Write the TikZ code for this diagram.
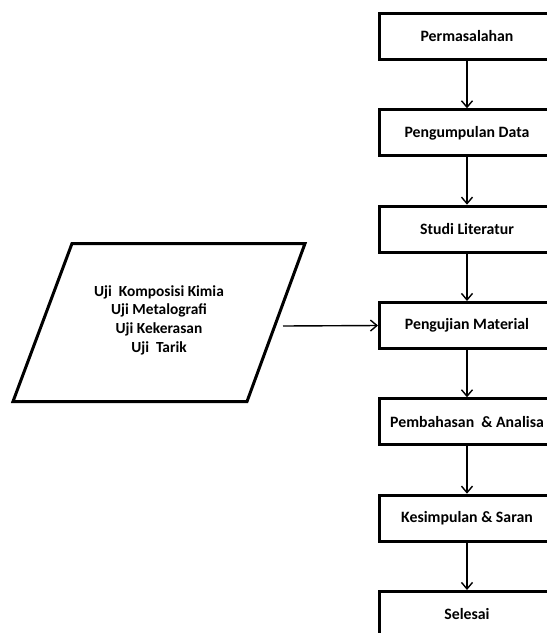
\documentclass[tikz,border=0pt]{standalone}
\usepackage{fontspec}
\setmainfont{Carlito}
\usetikzlibrary{arrows.meta}
\begin{document}
\begin{tikzpicture}[x=1pt,y=-1pt,
  txt/.style={font=\fontsize{15.4}{18.7}\selectfont\bfseries},
  stepbox/.style={font=\fontsize{15.8}{18.7}\selectfont\bfseries, draw, line width=3pt, minimum width=175pt, minimum height=46pt, inner sep=0pt},
  flow/.style={line width=1.4pt, -{Straight Barb[length=6.5pt,width=11pt,line width=1.4pt]}},
  para/.style={line width=3pt, line join=miter}]
\useasboundingbox (0,0) rectangle (547,633);
\clip (0,0) rectangle (547,633);
\fill[white] (0,0) rectangle (547,633);

\node[stepbox] (b1) at (467,36.5)  {Permasalahan};
\node[stepbox] (b2) at (467,132.8) {Pengumpulan Data};
\node[stepbox] (b3) at (467,229.2) {Studi Literatur};
\node[stepbox] (b4) at (467,325.5) {Pengujian Material};
\node[stepbox] (b5) at (467,421.8) {Pembahasan~~\& Analisa};
\node[stepbox] (b6) at (467,518.2) {Kesimpulan \& Saran};
\node[stepbox] (b7) at (467,614.5) {Selesai};

\draw[flow] (b1.south) -- (b2.north);
\draw[flow] (b2.south) -- (b3.north);
\draw[flow] (b3.south) -- (b4.north);
\draw[flow] (b4.south) -- (b5.north);
\draw[flow] (b5.south) -- (b6.north);
\draw[flow] (b6.south) -- (b7.north);

\coordinate (ptl) at (72,243.5);
\coordinate (ptr) at (305,243.5);
\coordinate (pbr) at (247,401.5);
\coordinate (pbl) at (13,401.5);
\draw[para] (ptl) -- (ptr) -- (pbr) -- (pbl) -- cycle;
\node[txt, align=center] (ptext) at (159,320) {Uji~~Komposisi Kimia\\Uji Metalografi\\Uji Kekerasan\\Uji~~Tarik};

\coordinate (pout) at (283,326);
\draw[flow] (pout) -- (b4.west);
\end{tikzpicture}
\end{document}
